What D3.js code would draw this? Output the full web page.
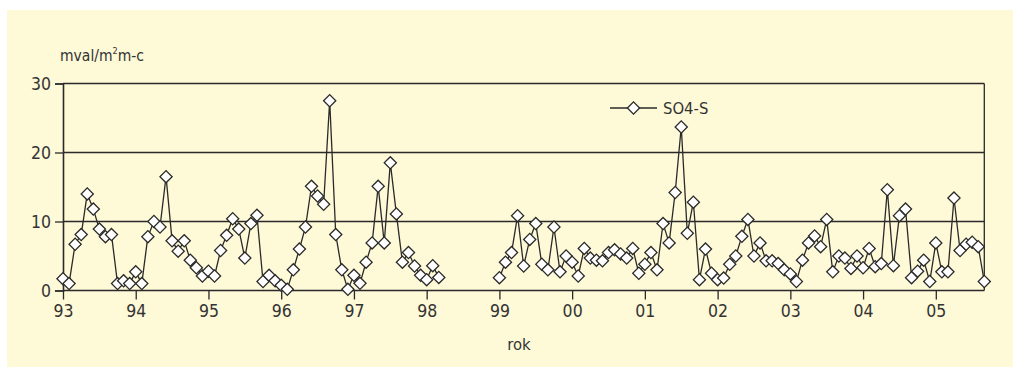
<!DOCTYPE html>
<html>
<head>
<meta charset="utf-8">
<script src="https://cdn.jsdelivr.net/npm/d3@7"></script>
<style>
  html, body { margin: 0; padding: 0; background: #ffffff; }
  svg { display: block; }
  text { font-family: "Liberation Sans Narrow", "DejaVu Sans Condensed", "Open Sans", sans-serif; fill: #333; }
</style>
</head>
<body>
<svg id="chart" width="1013" height="367"></svg>
<script>
// Monthly SO4-S values starting Jan 1993 (month index 0); null = no data
const startYear = 1993;
const values = [
  // 1993
  1.7, 1.0, 6.7, 8.1, 14.0, 11.8, 8.9, 7.8, 8.1, 1.0, 1.4, 1.0,
  // 1994
  2.7, 1.0, 7.8, 10.0, 9.2, 16.5, 7.2, 5.7, 7.2, 4.4, 3.3, 2.1,
  // 1995
  2.8, 2.1, 5.8, 8.0, 10.4, 8.9, 4.7, 9.7, 10.9, 1.3, 2.2, 1.4,
  // 1996
  0.75, 0.17, 3.0, 6.0, 9.2, 15.1, 13.7, 12.5, 27.5, 8.1, 3.0, 0.17,
  // 1997
  2.2, 1.04, 4.1, 6.9, 15.1, 6.9, 18.5, 11.1, 4.1, 5.5, 3.55, 2.2,
  // 1998
  1.57, 3.6, 1.9, null, null, null, null, null, null, null, null, null,
  // 1999
  1.86, 4.1, 5.5, 10.85, 3.55, 7.4, 9.7, 3.8, 3.0, 9.2, 2.7, 5.0,
  // 2000
  4.1, 2.1, 6.1, 4.7, 4.4, 4.3, 5.5, 5.9, 5.3, 4.7, 6.1, 2.5,
  // 2001
  3.8, 5.5, 3.0, 9.7, 6.9, 14.2, 23.7, 8.3, 12.8, 1.57, 6.0, 2.5,
  // 2002
  1.57, 1.8, 3.8, 5.0, 7.85, 10.3, 5.0, 6.9, 4.3, 4.3, 3.9, 3.0,
  // 2003
  2.4, 1.3, 4.4, 6.9, 7.9, 6.35, 10.3, 2.7, 5.0, 4.7, 3.2, 5.0,
  // 2004
  3.3, 6.1, 3.45, 3.9, 14.6, 3.6, 10.85, 11.8, 1.86, 2.8, 4.4, 1.3,
  // 2005
  6.9, 2.7, 2.7, 13.4, 5.8, 6.7, 7.0, 6.35, 1.3
];
const yearLabels = ["93","94","95","96","97","98","99","00","01","02","03","04","05"];
const yTicks = [0, 10, 20, 30];
const seriesName = "SO4-S";
const xTitle = "rok";

(function () {
const svg = d3.select("#chart");
const bg = "#fef9d7";
const ink = "#2a2a2a";
const fontFam = '"Liberation Sans Narrow", "DejaVu Sans Condensed", sans-serif';

svg.append("rect").attr("x", 7).attr("y", 10).attr("width", 1006).attr("height", 357).attr("fill", bg);

const pL = 63, pR = 984.3, pT = 83.5, pB = 290.5;
const x = d3.scaleLinear().domain([0, values.length - 1]).range([pL, pR]);
const y = d3.scaleLinear().domain([0, 30]).range([pB, pT]);

// gridlines
svg.append("g").selectAll("line").data(yTicks.filter(d => d > 0)).join("line")
  .attr("x1", pL).attr("x2", pR)
  .attr("y1", d => y(d)).attr("y2", d => y(d))
  .attr("stroke", ink).attr("stroke-width", 1.3);

// right border
svg.append("line").attr("x1", pR).attr("x2", pR).attr("y1", pT).attr("y2", pB)
  .attr("stroke", ink).attr("stroke-width", 1.3);

// y axis
const yAxis = d3.axisLeft(y).tickValues(yTicks).tickSize(8).tickPadding(4).tickFormat(d3.format("d"));
const gy = svg.append("g").attr("transform", `translate(${pL},0)`).call(yAxis);
gy.select(".domain").attr("stroke", ink).attr("stroke-width", 1.6);
gy.selectAll(".tick line").attr("stroke", ink).attr("stroke-width", 1.3);
gy.selectAll(".tick text").attr("font-size", 17.5).attr("fill", "#333").style("font-family", fontFam);

// x axis
const xTickVals = yearLabels.map((d, i) => i * 12);
const xAxis = d3.axisBottom(x).tickValues(xTickVals).tickSize(9).tickPadding(5)
  .tickFormat((d, i) => yearLabels[i]);
const gx = svg.append("g").attr("transform", `translate(0,${pB})`).call(xAxis);
gx.select(".domain").attr("stroke", ink).attr("stroke-width", 1.6).attr("d", `M${pL},0H${pR}`);
gx.selectAll(".tick line").attr("stroke", ink).attr("stroke-width", 1.3);
gx.selectAll(".tick text").attr("font-size", 17.5).attr("fill", "#333").style("font-family", fontFam);

// line
const pts = values.map((v, i) => ({ i, v }));
const line = d3.line().defined(d => d.v !== null).x(d => x(d.i)).y(d => y(d.v));
svg.append("path").datum(pts).attr("d", line)
  .attr("fill", "none").attr("stroke", ink).attr("stroke-width", 1.3).attr("stroke-linejoin", "round");

// markers
const diamond = d3.symbol().type(d3.symbolSquare).size(74);
svg.append("g").selectAll("path").data(pts.filter(d => d.v !== null)).join("path")
  .attr("d", diamond)
  .attr("transform", d => `translate(${x(d.i)},${y(d.v)}) rotate(45)`)
  .attr("fill", "#fff").attr("stroke", ink).attr("stroke-width", 1.3);

// legend
const lg = svg.append("g");
lg.append("line").attr("x1", 610).attr("x2", 657).attr("y1", 108).attr("y2", 108)
  .attr("stroke", ink).attr("stroke-width", 1.3);
lg.append("path").attr("d", diamond).attr("transform", "translate(633.5,108) rotate(45)")
  .attr("fill", "#fff").attr("stroke", ink).attr("stroke-width", 1.3);
lg.append("text").attr("x", 663).attr("y", 114).attr("font-size", 16.5).text(seriesName);

// unit label
const ut = svg.append("text").attr("x", 60).attr("y", 61).attr("font-size", 15.5);
ut.append("tspan").text("mval/m");
ut.append("tspan").attr("font-size", 9).attr("dy", -7).text("2");
ut.append("tspan").attr("dy", 7).text("m-c");

// x title
svg.append("text").attr("x", 519).attr("y", 350).attr("text-anchor", "middle").attr("font-size", 16.5).text(xTitle);
})();
</script>
</body>
</html>
